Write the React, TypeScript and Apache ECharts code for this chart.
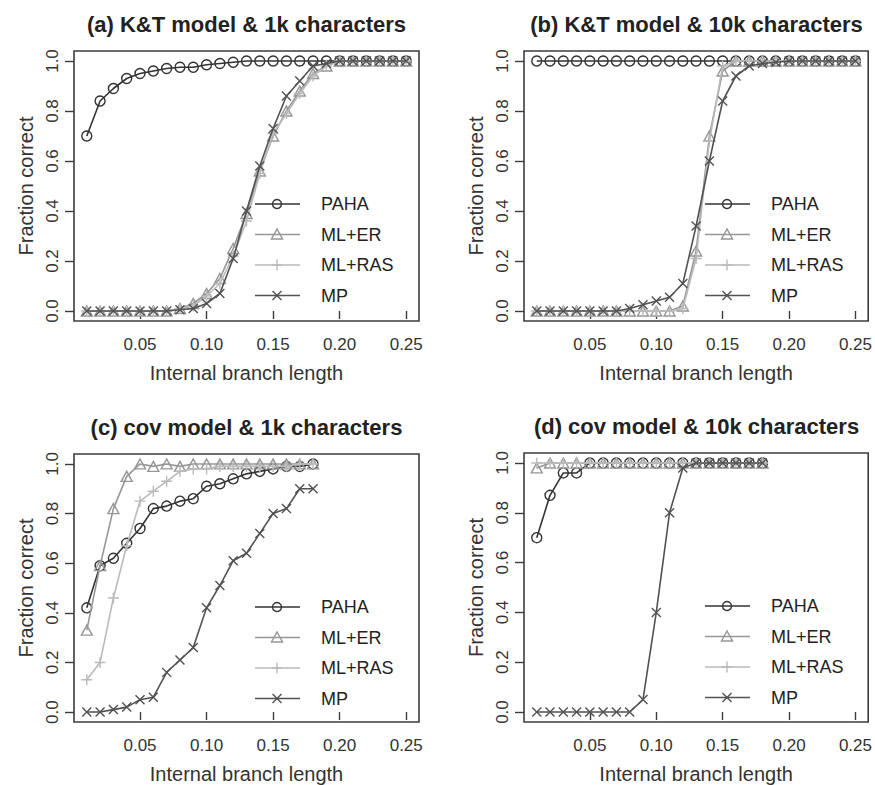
import React, { useEffect, useRef } from "react";
import * as echarts from "echarts";

// ---------- data ----------
const xFull = [0.01, 0.02, 0.03, 0.04, 0.05, 0.06, 0.07, 0.08, 0.09, 0.10, 0.11, 0.12, 0.13, 0.14, 0.15, 0.16, 0.17, 0.18, 0.19, 0.20, 0.21, 0.22, 0.23, 0.24, 0.25];
const xShort = [0.01, 0.02, 0.03, 0.04, 0.05, 0.06, 0.07, 0.08, 0.09, 0.10, 0.11, 0.12, 0.13, 0.14, 0.15, 0.16, 0.17, 0.18];

const seriesNames = ["PAHA", "ML+ER", "ML+RAS", "MP"];
const xTickValues = [0.05, 0.10, 0.15, 0.20, 0.25];
const yTickValues = [0.0, 0.2, 0.4, 0.6, 0.8, 1.0];

const titles = [
  "(a) K&T model & 1k characters",
  "(b) K&T model & 10k characters",
  "(c) cov model & 1k characters",
  "(d) cov model & 10k characters",
];

// (a) K&T model, 1k characters
const kt1kPaha = [0.70, 0.84, 0.89, 0.93, 0.95, 0.96, 0.97, 0.975, 0.975, 0.985, 0.99, 0.995, 1, 1, 1, 1, 1, 1, 1, 1, 1, 1, 1, 1, 1];
const kt1kMlEr = [0, 0, 0, 0, 0, 0, 0, 0.01, 0.03, 0.07, 0.13, 0.25, 0.39, 0.56, 0.70, 0.80, 0.88, 0.95, 0.98, 1, 1, 1, 1, 1, 1];
const kt1kMlRas = [0, 0, 0, 0, 0, 0, 0, 0.01, 0.02, 0.06, 0.11, 0.22, 0.36, 0.55, 0.71, 0.79, 0.87, 0.94, 0.98, 1, 1, 1, 1, 1, 1];
const kt1kMp = [0, 0, 0, 0, 0, 0, 0, 0.005, 0.01, 0.03, 0.07, 0.21, 0.40, 0.58, 0.73, 0.86, 0.92, 0.98, 0.99, 1, 1, 1, 1, 1, 1];

// (b) K&T model, 10k characters
const kt10kPaha = [1, 1, 1, 1, 1, 1, 1, 1, 1, 1, 1, 1, 1, 1, 1, 1, 1, 1, 1, 1, 1, 1, 1, 1, 1];
const kt10kMlEr = [0, 0, 0, 0, 0, 0, 0, 0, 0, 0, 0, 0.02, 0.24, 0.70, 0.96, 1, 1, 1, 1, 1, 1, 1, 1, 1, 1];
const kt10kMlRas = [0, 0, 0, 0, 0, 0, 0, 0, 0, 0, 0, 0.01, 0.21, 0.68, 0.98, 1, 1, 1, 1, 1, 1, 1, 1, 1, 1];
const kt10kMp = [0, 0, 0, 0, 0, 0, 0, 0.01, 0.025, 0.04, 0.055, 0.11, 0.34, 0.60, 0.84, 0.94, 0.98, 0.99, 0.995, 1, 1, 1, 1, 1, 1];

// (c) cov model, 1k characters
const cov1kPaha = [0.42, 0.59, 0.62, 0.68, 0.74, 0.82, 0.83, 0.85, 0.86, 0.91, 0.92, 0.94, 0.96, 0.97, 0.98, 0.99, 0.99, 1.0];
const cov1kMlEr = [0.33, 0.59, 0.82, 0.95, 1.0, 0.99, 1.0, 0.99, 1.0, 1.0, 1.0, 1.0, 1.0, 1.0, 1.0, 1.0, 1.0, 1.0];
const cov1kMlRas = [0.13, 0.20, 0.46, 0.67, 0.85, 0.89, 0.93, 0.97, 0.98, 0.98, 0.99, 0.99, 0.99, 0.99, 0.99, 0.99, 1.0, 1.0];
const cov1kMp = [0, 0, 0.01, 0.02, 0.05, 0.06, 0.16, 0.21, 0.26, 0.42, 0.51, 0.61, 0.64, 0.72, 0.80, 0.82, 0.90, 0.90];

// (d) cov model, 10k characters
const cov10kPaha = [0.70, 0.87, 0.96, 0.96, 1, 1, 1, 1, 1, 1, 1, 1, 1, 1, 1, 1, 1, 1];
const cov10kMlEr = [0.98, 1, 1, 1, 1, 1, 1, 1, 1, 1, 1, 1, 1, 1, 1, 1, 1, 1];
const cov10kMlRas = [1, 1, 1, 1, 1, 1, 1, 1, 1, 1, 1, 1, 1, 1, 1, 1, 1, 1];
const cov10kMp = [0, 0, 0, 0, 0, 0, 0, 0, 0.05, 0.40, 0.80, 0.98, 1, 1, 1, 1, 1, 1];

// ---------- styling ----------
const FONT = "'Liberation Sans', Arial, Helvetica, sans-serif";
const COLORS = ["#333333", "#969696", "#bababa", "#525252"];
const SYMBOLS = [
  "circle",
  "triangle",
  "path://M0,5L10,5M5,0L5,10",
  "path://M0,0L10,10M0,10L10,0",
];
const SYMBOL_SIZES: any[] = [10, [11, 10], 11, 9];

const panels = [
  { x: xFull, ys: [kt1kPaha, kt1kMlEr, kt1kMlRas, kt1kMp], left: 74, top: 51 },
  { x: xFull, ys: [kt10kPaha, kt10kMlEr, kt10kMlRas, kt10kMp], left: 524, top: 51 },
  { x: xShort, ys: [cov1kPaha, cov1kMlEr, cov1kMlRas, cov1kMp], left: 74, top: 454 },
  { x: xShort, ys: [cov10kPaha, cov10kMlEr, cov10kMlRas, cov10kMp], left: 524, top: 453 },
];
const GW = 345;
const GH = 270;

function legendMarker(kind: number, cx: number, cy: number, color: string) {
  const s = { stroke: color, lineWidth: 1.4, fill: "none" };
  if (kind === 0) return [{ type: "circle", shape: { cx, cy, r: 4.5 }, style: s, z: 20 }];
  if (kind === 1)
    return [{ type: "polygon", shape: { points: [[cx - 5.5, cy + 4.5], [cx + 5.5, cy + 4.5], [cx, cy - 5.5]] }, style: s, z: 20 }];
  if (kind === 2)
    return [
      { type: "line", shape: { x1: cx - 5.5, y1: cy, x2: cx + 5.5, y2: cy }, style: s, z: 20 },
      { type: "line", shape: { x1: cx, y1: cy - 5.5, x2: cx, y2: cy + 5.5 }, style: s, z: 20 },
    ];
  return [
    { type: "line", shape: { x1: cx - 4.5, y1: cy - 4.5, x2: cx + 4.5, y2: cy + 4.5 }, style: s, z: 20 },
    { type: "line", shape: { x1: cx - 4.5, y1: cy + 4.5, x2: cx + 4.5, y2: cy - 4.5 }, style: s, z: 20 },
  ];
}

function buildOption() {
  const grid: any[] = [];
  const xAxis: any[] = [];
  const yAxis: any[] = [];
  const series: any[] = [];
  const graphic: any[] = [];

  panels.forEach((p, gi) => {
    grid.push({
      left: p.left,
      top: p.top,
      width: GW,
      height: GH,
      show: true,
      borderColor: "#3c3c3c",
      borderWidth: 1.6,
      backgroundColor: "transparent",
      containLabel: false,
    });
    xAxis.push({
      type: "value",
      gridIndex: gi,
      min: 0.0004,
      max: 0.2596,
      name: "Internal branch length",
      nameLocation: "middle",
      nameGap: 42,
      nameTextStyle: { fontFamily: FONT, fontSize: 20, color: "#333" },
      axisLine: { show: false },
      splitLine: { show: false },
      axisTick: { show: true, length: 8, customValues: xTickValues, lineStyle: { color: "#3c3c3c", width: 1.4 } },
      axisLabel: {
        show: true,
        customValues: xTickValues,
        margin: 15,
        fontFamily: FONT,
        fontSize: 17,
        color: "#333",
        formatter: (v: number) => v.toFixed(2),
      },
    });
    yAxis.push({
      type: "value",
      gridIndex: gi,
      min: -0.04,
      max: 1.04,
      name: "Fraction correct",
      nameLocation: "middle",
      nameGap: 38,
      nameRotate: 90,
      nameTextStyle: { fontFamily: FONT, fontSize: 20, color: "#333" },
      axisLine: { show: false },
      splitLine: { show: false },
      axisTick: { show: true, length: 9, customValues: yTickValues, lineStyle: { color: "#3c3c3c", width: 1.4 } },
      axisLabel: {
        show: true,
        customValues: yTickValues,
        rotate: 90,
        margin: 13,
        fontFamily: FONT,
        fontSize: 17,
        color: "#333",
        formatter: (v: number) => v.toFixed(1),
      },
    });

    p.ys.forEach((ys, si) => {
      series.push({
        type: "line",
        name: seriesNames[si],
        xAxisIndex: gi,
        yAxisIndex: gi,
        data: p.x.map((x, i) => [x, ys[i]]),
        symbol: SYMBOLS[si],
        symbolSize: SYMBOL_SIZES[si],
        showSymbol: true,
        showAllSymbol: true,
        lineStyle: { color: COLORS[si], width: 1.6 },
        itemStyle: { color: "rgba(0,0,0,0)", borderColor: COLORS[si], borderWidth: 1.4 },
        emphasis: { disabled: true },
        silent: true,
        z: 2 + si,
        clip: false,
      });
    });

    // title
    graphic.push({
      type: "text",
      x: p.left + GW / 2,
      y: p.top - 27,
      style: {
        text: titles[gi],
        textAlign: "center",
        textVerticalAlign: "middle",
        font: `bold 22px ${FONT}`,
        fill: "#222",
      },
      z: 20,
    });

    // legend (no box)
    seriesNames.forEach((nm, si) => {
      const cy = p.top + 153 + si * 30.5;
      graphic.push({
        type: "line",
        shape: { x1: p.left + 181, y1: cy, x2: p.left + 226, y2: cy },
        style: { stroke: COLORS[si], lineWidth: 1.6 },
        z: 19,
      });
      legendMarker(si, p.left + 203, cy, COLORS[si]).forEach((g) => graphic.push(g));
      graphic.push({
        type: "text",
        x: p.left + 247,
        y: cy,
        style: {
          text: nm,
          textAlign: "left",
          textVerticalAlign: "middle",
          font: `18px ${FONT}`,
          fill: "#222",
        },
        z: 20,
      });
    });
  });

  return {
    animation: false,
    backgroundColor: "#ffffff",
    grid,
    xAxis,
    yAxis,
    series,
    graphic,
  };
}

export default function App() {
  const ref = useRef<HTMLDivElement>(null);
  useEffect(() => {
    if (!ref.current) return;
    const chart = echarts.init(ref.current, undefined, { renderer: "svg" });
    chart.setOption(buildOption() as any);
    return () => chart.dispose();
  }, []);
  return (
    <div
      ref={ref}
      style={{ position: "fixed", left: 0, top: 0, width: 875, height: 785, background: "#fff" }}
    />
  );
}
